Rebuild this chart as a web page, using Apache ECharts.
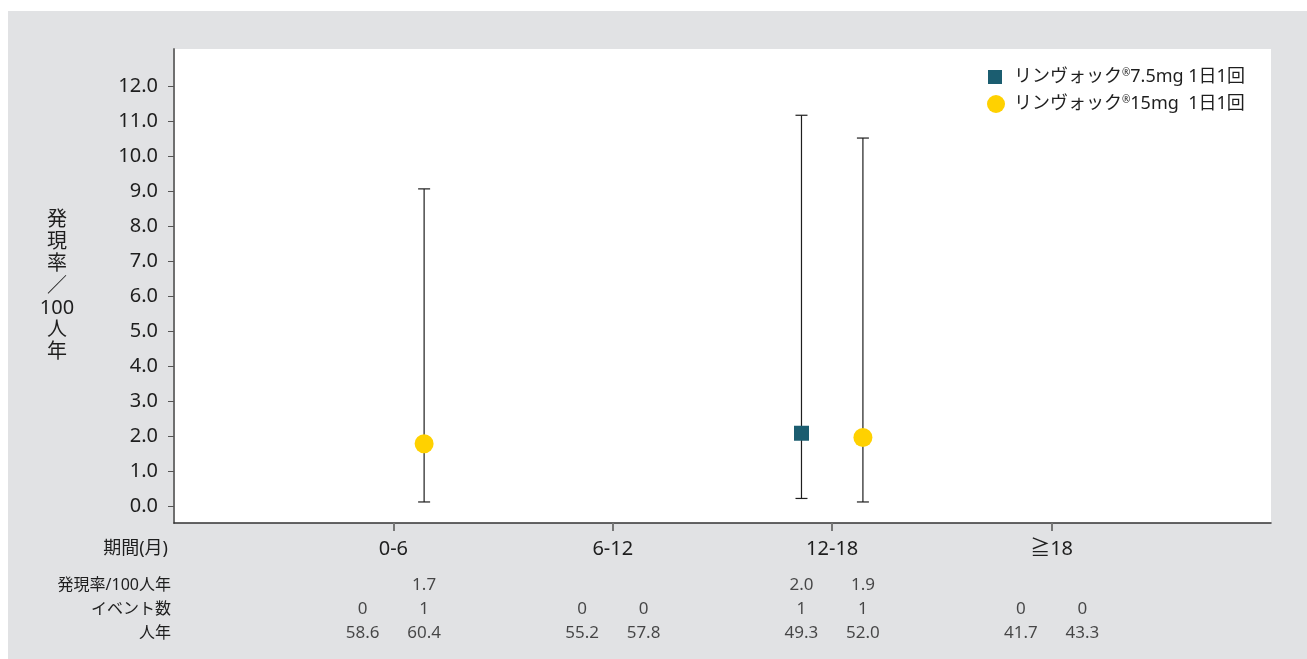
<!DOCTYPE html>
<html>
<head>
<meta charset="utf-8">
<script src="https://cdn.jsdelivr.net/npm/echarts@6/dist/echarts.min.js"></script>
<style>
  html, body { margin: 0; padding: 0; background: #ffffff; }
  #wrap { position: relative; width: 1307px; height: 659px; background: #ffffff; overflow: hidden; }
  #chart { position: absolute; left: 8px; top: 11px; width: 1299px; height: 648px; background: #e1e2e4; }
</style>
</head>
<body>
<div id="wrap"><div id="chart"></div></div>
<script>
// ---- data ----
const categories = ['0-6', '6-12', '12-18', '≧18'];
const seriesNames = ['リンヴォック®7.5mg 1日1回', 'リンヴォック®15mg  1日1回'];
// plotted incidence rate and 95% CI (per 100 patient-years)
const rate75 = [null, null, 2.09, null];
const low75  = [null, null, 0.23, null];
const high75 = [null, null, 11.16, null];
const rate15 = [1.79, null, 1.97, null];
const low15  = [0.13, null, 0.13, null];
const high15 = [9.06, null, 10.51, null];
const yTicks = [0, 1, 2, 3, 4, 5, 6, 7, 8, 9, 10, 11, 12];
// table under the chart
const tableRows = ['発現率/100人年', 'イベント数', '人年'];
const rateText75 = ['', '', '2.0', ''];
const rateText15 = ['1.7', '', '1.9', ''];
const events75 = ['0', '0', '1', '0'];
const events15 = ['1', '0', '1', '0'];
const personYears75 = ['58.6', '55.2', '49.3', '41.7'];
const personYears15 = ['60.4', '57.8', '52.0', '43.3'];

const groupOffset = [-0.14, 0.14];
const FONT = '"Noto Sans", "Noto Sans CJK JP", sans-serif';
const TXT = '#1e1e1e';
const colors = ['#1b5d70', '#ffd100'];

function pointData(vals, g) {
  const out = [];
  vals.forEach((v, i) => { if (v !== null) out.push([i + 1 + groupOffset[g], v]); });
  return out;
}
function ciData(lo, hi, g) {
  const out = [];
  lo.forEach((v, i) => { if (v !== null) out.push([i + 1 + groupOffset[g], v, hi[i]]); });
  return out;
}
function tableData() {
  const out = [];
  const rows = [[rateText75, rateText15], [events75, events15], [personYears75, personYears15]];
  rows.forEach((pair, r) => {
    pair.forEach((arr, g) => {
      arr.forEach((t, i) => {
        if (t !== '') out.push([i + 1 + groupOffset[g], tableRows[r], t]);
      });
    });
  });
  return out;
}

function renderCI(params, api) {
  const x = api.value(0);
  const pLo = api.coord([x, api.value(1)]);
  const pHi = api.coord([x, api.value(2)]);
  const cap = 6;
  const st = { stroke: '#1e1e1e', lineWidth: 1.2 };
  return {
    type: 'group',
    children: [
      { type: 'line', shape: { x1: pLo[0], y1: pLo[1], x2: pHi[0], y2: pHi[1] }, style: st },
      { type: 'line', shape: { x1: pLo[0] - cap, y1: pLo[1], x2: pLo[0] + cap, y2: pLo[1] }, style: st },
      { type: 'line', shape: { x1: pHi[0] - cap, y1: pHi[1], x2: pHi[0] + cap, y2: pHi[1] }, style: st }
    ]
  };
}

function legendFmt(name) {
  const parts = name.split('®');
  return '{t|' + parts[0] + '}{s|®}{t|' + parts[1] + '}';
}
const legendRich = {
  t: { fontSize: 18, color: TXT, fontFamily: FONT, lineHeight: 20 },
  s: { fontSize: 10, color: TXT, fontFamily: FONT, lineHeight: 20, padding: [0, 0, 8, 0] }
};

const chart = echarts.init(document.getElementById('chart'), null, { renderer: 'canvas' });
chart.setOption({
  backgroundColor: 'transparent',
  animation: false,
  textStyle: { fontFamily: FONT },
  legend: [
    {
      data: [{ name: seriesNames[0], icon: 'rect' }],
      left: 975, top: 52, itemWidth: 14, itemHeight: 14,
      formatter: legendFmt,
      textStyle: { padding: [0, 0, 0, 7], rich: legendRich }
    },
    {
      data: [{ name: seriesNames[1], icon: 'circle' }],
      left: 974, top: 79, itemWidth: 18, itemHeight: 18,
      formatter: legendFmt,
      textStyle: { padding: [0, 0, 0, 4], rich: legendRich }
    }
  ],
  grid: [
    { left: 166, right: 36, top: 38, bottom: 136, show: true, backgroundColor: '#ffffff', borderWidth: 0 },
    { left: 166, right: 36, top: 562, height: 72, show: false }
  ],
  xAxis: [
    {
      type: 'value', gridIndex: 0, min: 0, max: 5,
      name: '期間(月)', nameLocation: 'start', nameGap: 6, nameMoveOverlap: false,
      nameTextStyle: { fontSize: 18, color: TXT, align: 'right', verticalAlign: 'top', padding: [17, 0, 0, 0], fontFamily: FONT },
      axisLine: { show: true, onZero: false, lineStyle: { color: '#333333', width: 1.5 } },
      axisTick: { show: true, length: 8, customValues: [1, 2, 3, 4], lineStyle: { color: '#777777', width: 2 } },
      axisLabel: {
        show: true, customValues: [1, 2, 3, 4], margin: 16, fontSize: 20, color: TXT,
        formatter: v => categories[Math.round(v) - 1]
      },
      splitLine: { show: false }
    },
    {
      type: 'value', gridIndex: 1, min: 0, max: 5, show: false
    }
  ],
  yAxis: [
    {
      type: 'value', gridIndex: 0, min: -0.47, max: 13.05,
      name: '発\n現\n率\n／\n100\n人\n年', nameLocation: 'middle', nameRotate: 0, nameGap: 117, nameMoveOverlap: false,
      nameTextStyle: { fontSize: 20, lineHeight: 22, color: TXT, align: 'center', verticalAlign: 'middle', padding: [16, 0, 0, 0], fontFamily: FONT },
      axisLine: { show: true, onZero: false, lineStyle: { color: '#6f6f6f', width: 2 } },
      axisTick: { show: true, length: 6, customValues: yTicks, lineStyle: { color: '#555555', width: 1 } },
      axisLabel: {
        show: true, customValues: yTicks, margin: 16, fontSize: 20, color: TXT,
        formatter: v => v.toFixed(1)
      },
      splitLine: { show: false }
    },
    {
      type: 'category', gridIndex: 1, data: tableRows, inverse: true,
      axisLine: { show: false }, axisTick: { show: false },
      axisLabel: { margin: 3, fontSize: 16, color: TXT }
    }
  ],
  series: [
    { type: 'custom', name: 'ci75', xAxisIndex: 0, yAxisIndex: 0, renderItem: renderCI, data: ciData(low75, high75, 0), z: 2 },
    { type: 'custom', name: 'ci15', xAxisIndex: 0, yAxisIndex: 0, renderItem: renderCI, data: ciData(low15, high15, 1), z: 2 },
    {
      type: 'scatter', name: seriesNames[0], xAxisIndex: 0, yAxisIndex: 0,
      symbol: 'rect', symbolSize: 15, itemStyle: { color: colors[0], opacity: 1 },
      data: pointData(rate75, 0), z: 5
    },
    {
      type: 'scatter', name: seriesNames[1], xAxisIndex: 0, yAxisIndex: 0,
      symbol: 'circle', symbolSize: 19, itemStyle: { color: colors[1], opacity: 1 },
      data: pointData(rate15, 1), z: 5
    },
    {
      type: 'scatter', name: 'table', xAxisIndex: 1, yAxisIndex: 1,
      symbolSize: 1, itemStyle: { color: 'rgba(0,0,0,0)' },
      label: {
        show: true, position: 'inside', fontSize: 17, color: TXT,
        formatter: p => p.value[2]
      },
      data: tableData()
    }
  ]
});
</script>
</body>
</html>
